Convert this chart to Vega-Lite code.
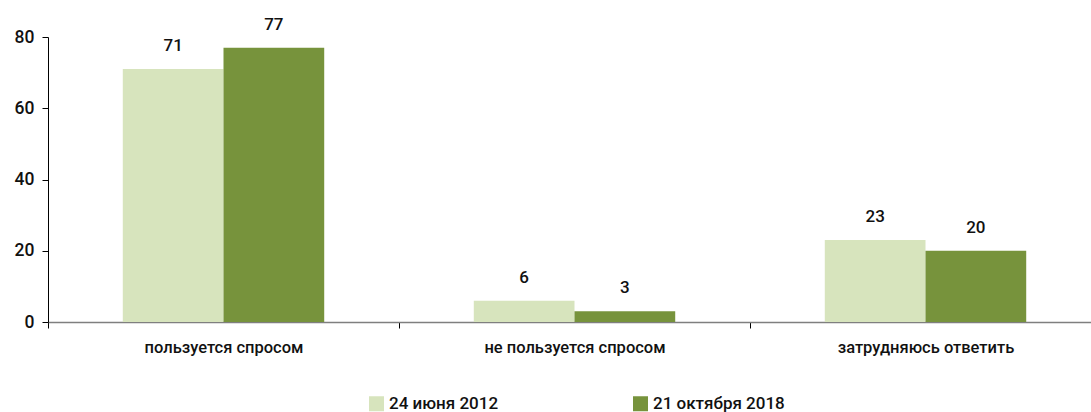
{
  "$schema": "https://vega.github.io/schema/vega-lite/v6.json",
  "width": 1043,
  "height": 285,
  "autosize": {"type": "none"},
  "padding": {"left": 48, "top": 37, "right": 0, "bottom": 90},
  "config": {
    "view": {"stroke": null},
    "font": "Roboto",
    "axis": {"labelColor": "#111111", "titleColor": "#111111", "labelFontWeight": 500},
    "legend": {"labelFontWeight": 500},
    "text": {"fontWeight": 500}
  },
  "data": {
    "values": [
      {"cat": "пользуется спросом", "date": "24 июня 2012", "value": 71},
      {"cat": "пользуется спросом", "date": "21 октября 2018", "value": 77},
      {"cat": "не пользуется спросом", "date": "24 июня 2012", "value": 6},
      {"cat": "не пользуется спросом", "date": "21 октября 2018", "value": 3},
      {"cat": "затрудняюсь ответить", "date": "24 июня 2012", "value": 23},
      {"cat": "затрудняюсь ответить", "date": "21 октября 2018", "value": 20}
    ]
  },
  "encoding": {
    "x": {
      "field": "cat",
      "type": "nominal",
      "sort": null,
      "title": null,
      "scale": {"paddingInner": 0, "paddingOuter": 0, "range": [0, 1053]},
      "axis": {
        "labelAngle": 0,
        "labelFontSize": 16.5,
        "labelPadding": 11,
        "labelLimit": 400,
        "tickBand": "extent",
        "tickSize": 6,
        "tickColor": "#000000",
        "domainColor": "#7f7f7f",
        "domainWidth": 1.5,
        "grid": false
      }
    },
    "xOffset": {
      "field": "date",
      "sort": null,
      "scale": {"paddingInner": 0, "paddingOuter": 0.7426}
    },
    "y": {
      "field": "value",
      "type": "quantitative",
      "title": null,
      "scale": {"domain": [0, 80], "nice": false},
      "axis": {
        "values": [0, 20, 40, 60, 80],
        "grid": false,
        "labelFontSize": 17.5,
        "labelPadding": 8,
        "tickSize": 6,
        "tickColor": "#000000",
        "domainColor": "#000000"
      }
    }
  },
  "layer": [
    {
      "mark": {"type": "bar"},
      "encoding": {
        "color": {
          "field": "date",
          "type": "nominal",
          "sort": null,
          "scale": {"domain": ["24 июня 2012", "21 октября 2018"], "range": ["#D7E4BD", "#77933C"]},
          "legend": {
            "title": null,
            "orient": "none",
            "legendX": 320,
            "legendY": 358,
            "direction": "horizontal",
            "symbolType": "square",
            "symbolSize": 225,
            "symbolStrokeWidth": 0,
            "symbolOpacity": 1,
            "labelFontSize": 17,
            "labelOffset": 4,
            "labelLimit": 300,
            "labelColor": "#111111",
            "columnPadding": 133
          }
        }
      }
    },
    {
      "mark": {"type": "text", "baseline": "bottom", "dy": -14, "fontSize": 17, "color": "#111111", "fontWeight": 500},
      "encoding": {"text": {"field": "value", "type": "quantitative"}}
    }
  ]
}
